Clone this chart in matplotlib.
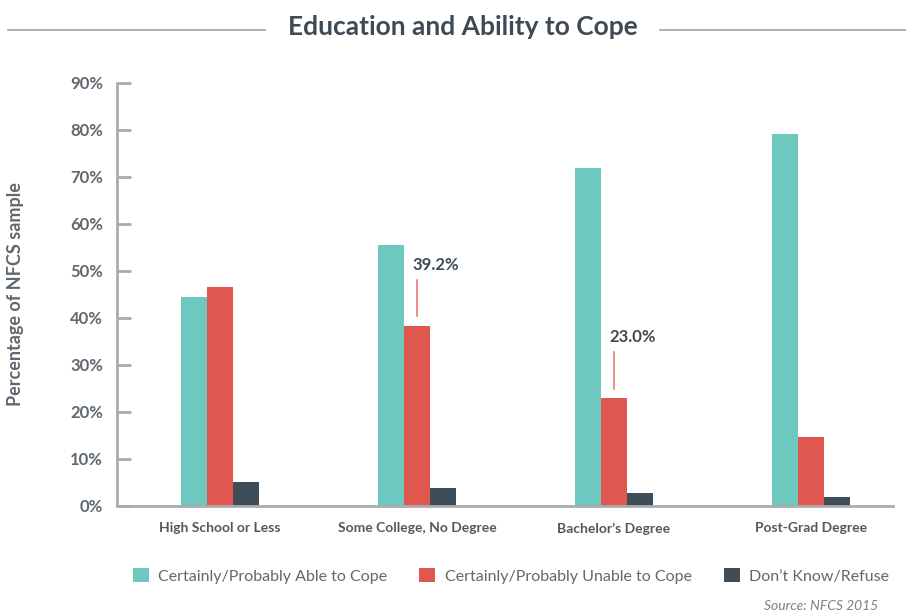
import numpy as np
import matplotlib.pyplot as plt
from matplotlib.lines import Line2D

plt.rcParams['font.family'] = ['Lato', 'DejaVu Sans']

# data
categories = ["High School or Less", "Some College, No Degree", "Bachelor\u2019s Degree", "Post-Grad Degree"]
series_names = ["Certainly/Probably Able to Cope", "Certainly/Probably Unable to Cope", "Don\u2019t Know/Refuse"]
able = [44.3, 55.5, 71.8, 79.1]
unable = [46.5, 38.3, 22.9, 14.6]
dont_know = [5.1, 3.8, 2.7, 1.8]
callout_idx = [1, 2]
callout_text = ["39.2%", "23.0%"]

colors = ["#6dc8c0", "#e0574f", "#3f4d58"]
axis_gray = "#a9adb0"
label_gray = "#5f6870"
title_col = "#3d4a56"

fig = plt.figure(figsize=(9.06, 6.16), dpi=100)
ax = fig.add_axes([117/906, 1 - 505.7/616, (893-117)/906, (505.7-82.7)/616])

x = np.arange(len(categories))
w = 0.132
for i, vals in enumerate([able, unable, dont_know]):
    ax.bar(x + (i-1)*w, vals, width=w, color=colors[i], label=series_names[i], zorder=2)

ax.set_xlim(-0.523, 3.416)
ax.set_ylim(0, 90)
ax.set_yticks(np.arange(0, 91, 10))
ax.set_yticklabels([f"{v}%" for v in range(0, 91, 10)])
ax.set_xticks(x)
ax.set_xticklabels(categories)

for s in ["top", "right"]:
    ax.spines[s].set_visible(False)
for s in ["left", "bottom"]:
    ax.spines[s].set_color(axis_gray)
    ax.spines[s].set_linewidth(2)
ax.tick_params(axis="y", direction="in", length=10, width=2, color=axis_gray,
               labelsize=12, labelcolor=label_gray, pad=10)
ax.tick_params(axis="x", length=0, labelsize=10, labelcolor="#4f5963", pad=12)
for t in ax.get_yticklabels() + ax.get_xticklabels():
    t.set_fontweight("bold")

ax.set_ylabel("Percentage of NFCS sample", fontsize=13, fontweight="bold", color=label_gray)
ax.yaxis.set_label_coords(-93/776, 0.5)

# callouts on the red bars
for idx, txt in zip(callout_idx, callout_text):
    h = unable[idx]
    ax.plot([idx, idx], [h + 2, h + 9.7], color="#e0574f", lw=1.2, alpha=0.8)
    ax.text(idx - 0.025, h + 13, txt, ha="left", va="center", fontsize=12,
            fontweight="bold", color=title_col)

# title with side rules
fig.text(463/906, 1 - 27/616, "Education and Ability to Cope", ha="center", va="center",
         fontsize=19, fontweight="bold", color=title_col)
fig.add_artist(Line2D([8/906, 265/906], [1 - 30/616, 1 - 30/616], color="#a0a3a6", lw=1.2))
fig.add_artist(Line2D([660/906, 1.0], [1 - 30/616, 1 - 30/616], color="#a0a3a6", lw=1.2))

leg = fig.legend(loc="center", bbox_to_anchor=(511/906, 1 - 576/616), ncol=3, frameon=False,
                 fontsize=11.5, handlelength=1.0, handleheight=1.0, columnspacing=2.0,
                 handletextpad=0.6)
for t in leg.get_texts():
    t.set_color(label_gray)

fig.text(878/906, 1 - 606/616, "Source: NFCS 2015", ha="right", va="center",
         fontsize=10, style="italic", color="#7a8187")

plt.savefig("out.png", dpi=100)
